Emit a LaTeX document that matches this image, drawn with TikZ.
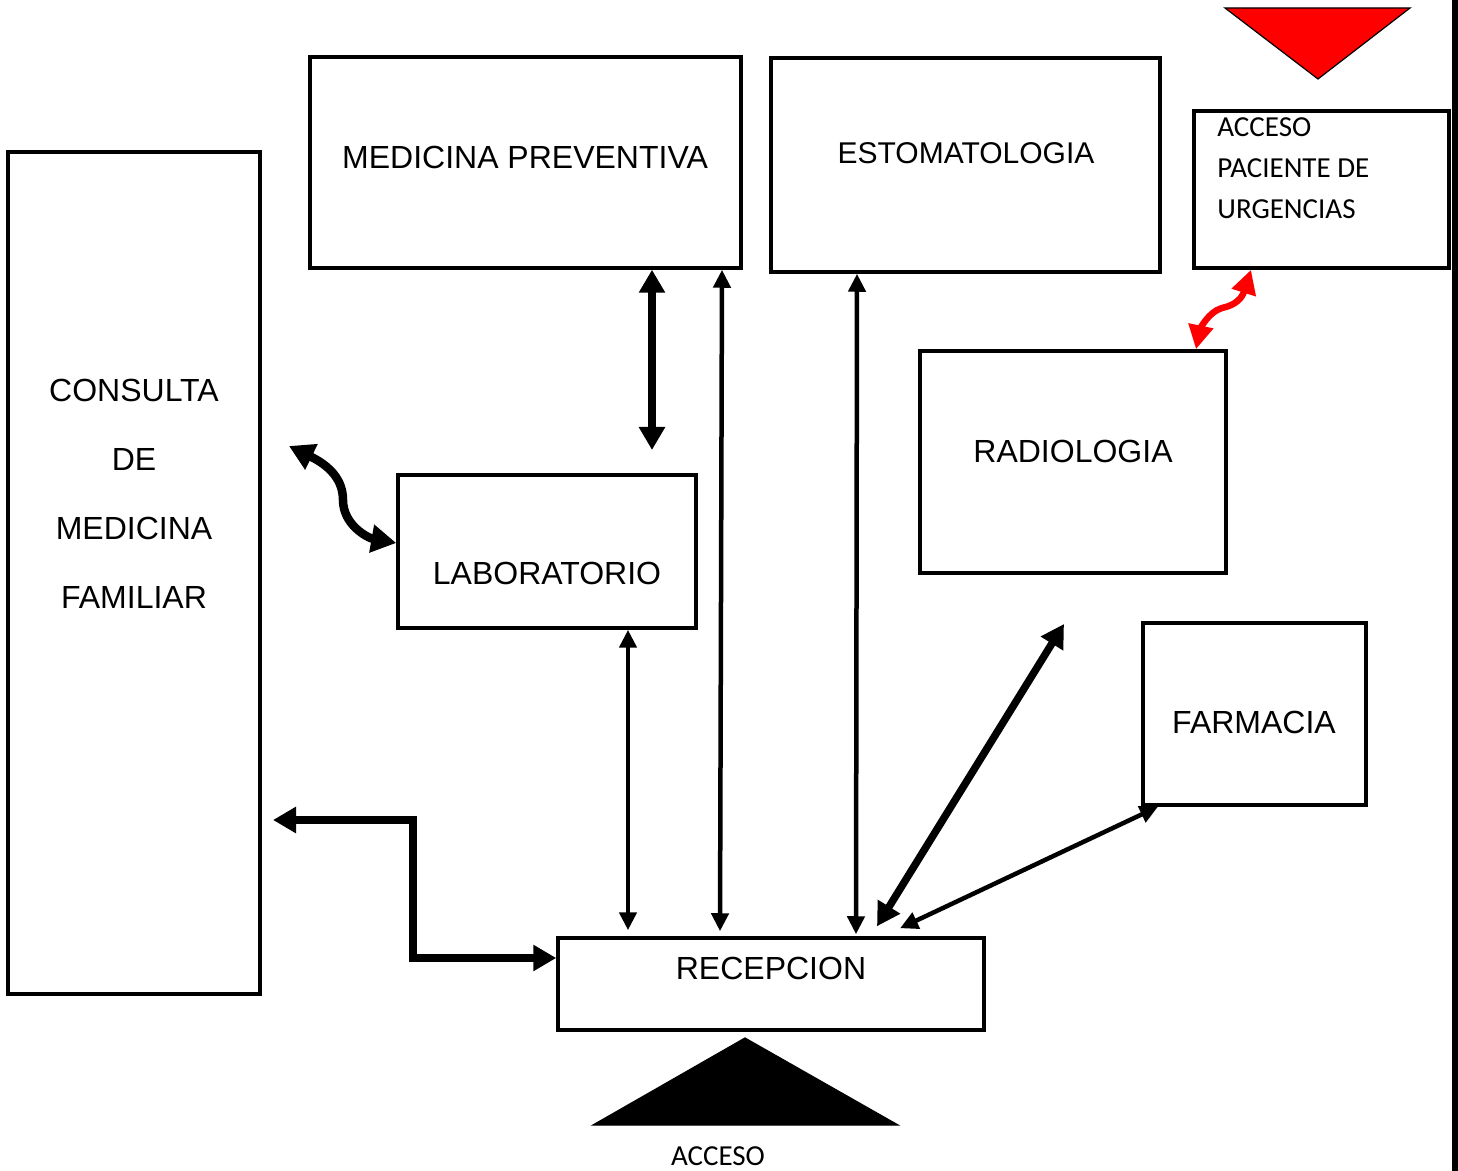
\documentclass[tikz,border=0pt]{standalone}
\usepackage{fontspec}
\setmainfont{Liberation Sans}
\newfontfamily\accfont{Carlito}
\usetikzlibrary{arrows.meta, calc}

\begin{document}
\begin{tikzpicture}[
        x=0.5pt, y=-0.5pt,
        box/.style={
            rectangle,
            draw=black,
            line width=1.75pt,
            inner sep=0pt
        },
        lbl/.style={
            font=\fontsize{16}{19}\selectfont,
            inner sep=0pt
        },
        acc/.style={
            font=\accfont\fontsize{14.5}{20.5}\selectfont,
            inner sep=0pt
        },
        arrow/.style={
            <->, >={Triangle[length=9pt, width=8.5pt]},
            line width=2.25pt
        },
        bigarrow/.style={
            <->, >={Triangle[length=11.5pt, width=12.5pt]},
            line width=3.75pt
        },
        redarrow/.style={
            <->, >={Triangle[length=12pt, width=12pt]},
            draw=red, line width=3.25pt
        }
    ]
    \useasboundingbox (0,0) rectangle (1458,1171);

    % Nodes
    \node[box, minimum width=126pt, minimum height=421pt] (consulta) at (134,573) {};
    \node[box, minimum width=215.5pt, minimum height=105.5pt] (medprev) at (525.5,162.5) {};
    \node[box, minimum width=194.5pt, minimum height=107pt] (estomat) at (965.5,165) {};
    \node[box, minimum width=127.5pt, minimum height=78.5pt] (urgencias) at (1321.5,189.5) {};
    \node[box, minimum width=153pt, minimum height=111pt] (radiologia) at (1073,462) {};
    \node[box, minimum width=149pt, minimum height=76.5pt] (laboratorio) at (547,551.5) {};
    \node[box, minimum width=111.5pt, minimum height=91pt] (farmacia) at (1254.5,714) {};
    \node[box, minimum width=213pt, minimum height=46pt] (recepcion) at (771,984) {};

    % Labels
    \node[lbl, align=center, font=\fontsize{16}{34.5}\selectfont] at (134,493.5) {CONSULTA\\DE\\MEDICINA\\FAMILIAR};
    \node[lbl] at (525,157) {MEDICINA PREVENTIVA};
    \node[lbl, font=\fontsize{15}{18}\selectfont] at (966,153) {ESTOMATOLOGIA};
    \node[lbl] at (1073,451) {RADIOLOGIA};
    \node[lbl] at (547,573) {LABORATORIO};
    \node[lbl] at (1254,722) {FARMACIA};
    \node[lbl] at (771,968) {RECEPCION};
    \node[acc, anchor=west, align=left] at (1217,168) {ACCESO\\PACIENTE DE\\URGENCIAS};
    \node[acc] (acceso) at (718,1156) {ACCESO};

    % Accesses
    \draw[fill=red, line width=0.6pt] (1225,8) -- (1410,8) -- (1318,79) -- cycle;
    \draw[fill=black, line width=0.6pt] (593,1125) -- (898,1125) -- (745,1038) -- cycle;
    \draw[line width=3pt] (1455,0) -- (1455,1171);

    % Free ends
    \coordinate (labtip) at (652,450);
    \coordinate (curvetip) at (289,446);
    \coordinate (rettip) at (273,820);
    \coordinate (radtip) at (1064,624);

    % Arrows
    \draw[bigarrow] (652,0 |- medprev.south) -- (labtip);
    \draw[arrow] (722,0 |- medprev.south) -- ($(720,0 |- recepcion.north)+(0,-5)$);
    \draw[arrow] (857,0 |- estomat.south) -- ($(856,0 |- recepcion.north)+(0,-2)$);
    \draw[arrow] (628,0 |- laboratorio.south) -- ($(628,0 |- recepcion.north)+(0,-6)$);
    \draw[bigarrow] (radtip) -- ($(877,0 |- recepcion.north)+(0,-10)$);
    \draw[arrow] (1158,0 |- farmacia.south) -- ($(900,0 |- recepcion.north)+(0,-8)$);
    \draw[bigarrow, line width=4pt] (rettip) -- (413,820) -- (413,958) -- (recepcion.west |- 0,958);
    \draw[bigarrow, line width=4.25pt, >={Triangle[length=12.5pt, width=13.5pt]}] (curvetip) .. controls (330,466) and (343,480) .. (343,500)
        .. controls (343,525) and (368,538) .. (laboratorio.west |- 0,543);
    \draw[redarrow] (1251,0 |- urgencias.south) .. controls (1242,298) and (1236,305) .. (1222,308)
        .. controls (1208,312) and (1200,330) .. (1196,0 |- radiologia.north);

\end{tikzpicture}
\end{document}
